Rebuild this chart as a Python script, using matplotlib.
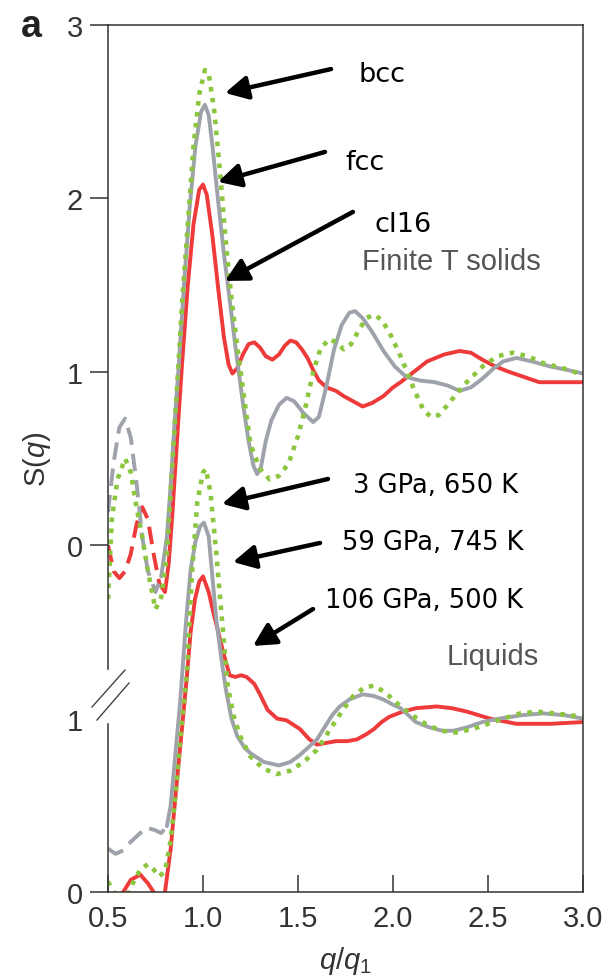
import matplotlib
matplotlib.use("Agg")
import matplotlib.pyplot as plt
from matplotlib.lines import Line2D

plt.rcParams["mathtext.fontset"] = "custom"
plt.rcParams["mathtext.rm"] = "Liberation Sans"
plt.rcParams["mathtext.it"] = "Liberation Sans:italic"

# ---------------- data: S(q) vs q/q1 ----------------
# Finite-T solids (drawn shifted up by SOLID_OFFSET)
q_cI16 = [0.50, 0.53, 0.56, 0.59, 0.62, 0.65, 0.68, 0.71, 0.74, 0.77, 0.80,
          0.82, 0.84, 0.87, 0.89, 0.92, 0.95, 0.98, 1.00, 1.02, 1.05, 1.08,
          1.11, 1.135, 1.155, 1.18, 1.21, 1.24, 1.27, 1.30, 1.33, 1.365, 1.40,
          1.43, 1.46, 1.49, 1.52, 1.55, 1.58, 1.61, 1.65, 1.70, 1.74, 1.79,
          1.84, 1.89, 1.95, 2.00, 2.04, 2.11, 2.18, 2.27, 2.35, 2.41, 2.47,
          2.54, 2.61, 2.69, 2.77, 2.88, 3.00]
s_cI16 = [0.00, -0.15, -0.19, -0.15, -0.05, 0.12, 0.22, 0.15, -0.05, -0.22, -0.27,
          -0.10, 0.20, 0.72, 1.05, 1.50, 1.85, 2.05, 2.08, 2.02, 1.78, 1.48,
          1.20, 1.04, 0.99, 1.02, 1.10, 1.16, 1.17, 1.14, 1.09, 1.07, 1.10,
          1.15, 1.18, 1.17, 1.13, 1.08, 1.01, 0.95, 0.91, 0.89, 0.86, 0.83,
          0.80, 0.82, 0.86, 0.91, 0.94, 1.00, 1.06, 1.10, 1.12, 1.11, 1.07,
          1.03, 1.00, 0.97, 0.94, 0.94, 0.94]

q_fcc = [0.50, 0.53, 0.56, 0.59, 0.62, 0.65, 0.68, 0.71, 0.75, 0.78, 0.81,
         0.83, 0.85, 0.87, 0.90, 0.93, 0.96, 0.99, 1.01, 1.03, 1.05, 1.08,
         1.11, 1.14, 1.17, 1.21, 1.24, 1.265, 1.285, 1.305, 1.33, 1.36, 1.40,
         1.44, 1.48, 1.53, 1.58, 1.61, 1.65, 1.69, 1.73, 1.77, 1.80, 1.84,
         1.89, 1.95, 2.01, 2.07, 2.14, 2.22, 2.29, 2.35, 2.41, 2.47, 2.53,
         2.58, 2.65, 2.73, 2.83, 2.92, 3.00]
s_fcc = [0.19, 0.48, 0.68, 0.73, 0.62, 0.36, 0.05, -0.15, -0.27, -0.18, 0.05,
         0.35, 0.70, 1.00, 1.50, 1.95, 2.30, 2.50, 2.54, 2.48, 2.30, 1.98,
         1.68, 1.42, 1.15, 0.82, 0.60, 0.46, 0.41, 0.45, 0.60, 0.72, 0.81,
         0.85, 0.83, 0.76, 0.71, 0.74, 0.92, 1.13, 1.27, 1.34, 1.35, 1.31,
         1.23, 1.12, 1.03, 0.97, 0.95, 0.94, 0.92, 0.89, 0.91, 0.96, 1.02,
         1.06, 1.08, 1.06, 1.03, 1.01, 0.99]

q_bcc = [0.50, 0.52, 0.55, 0.59, 0.62, 0.65, 0.68, 0.71, 0.75, 0.78, 0.81,
         0.83, 0.86, 0.89, 0.92, 0.95, 0.98, 1.01, 1.03, 1.06, 1.09, 1.12,
         1.15, 1.18, 1.21, 1.25, 1.30, 1.35, 1.40, 1.45, 1.50, 1.54, 1.58,
         1.62, 1.67, 1.71, 1.74, 1.78, 1.82, 1.86, 1.90, 1.94, 1.98, 2.04,
         2.11, 2.16, 2.20, 2.24, 2.28, 2.37, 2.47, 2.55, 2.63, 2.71, 2.79,
         2.86, 2.93, 3.00]
s_bcc = [-0.31, 0.15, 0.38, 0.50, 0.42, 0.22, 0.05, -0.15, -0.37, -0.30, -0.05,
         0.30, 0.85, 1.40, 1.85, 2.30, 2.60, 2.74, 2.72, 2.50, 2.15, 1.75,
         1.42, 1.15, 0.90, 0.58, 0.44, 0.38, 0.40, 0.47, 0.63, 0.80, 1.00,
         1.14, 1.19, 1.16, 1.13, 1.16, 1.24, 1.31, 1.33, 1.30, 1.23, 1.09,
         0.90, 0.78, 0.74, 0.75, 0.80, 0.92, 1.03, 1.09, 1.11, 1.09, 1.05,
         1.03, 1.01, 0.98]

# Liquids
q_106 = [0.50, 0.56, 0.58, 0.62, 0.67, 0.71, 0.74, 0.77, 0.80, 0.83, 0.86,
         0.89, 0.914, 0.935, 0.958, 0.98, 1.00, 1.03, 1.055, 1.08, 1.107, 1.14,
         1.17, 1.20, 1.23, 1.27, 1.30, 1.34, 1.39, 1.44, 1.51, 1.56, 1.60,
         1.65, 1.70, 1.76, 1.81, 1.86, 1.90, 1.94, 1.98, 2.05, 2.12, 2.23,
         2.31, 2.39, 2.51, 2.65, 2.83, 3.00]
s_106 = [-0.10, -0.05, 0.00, 0.07, 0.10, 0.05, 0.00, -0.04, 0.00, 0.25, 0.61,
         0.95, 1.23, 1.50, 1.69, 1.79, 1.82, 1.73, 1.61, 1.50, 1.38, 1.25,
         1.24, 1.25, 1.24, 1.20, 1.14, 1.05, 1.00, 0.99, 0.94, 0.88, 0.85,
         0.86, 0.87, 0.87, 0.88, 0.91, 0.94, 0.98, 1.01, 1.04, 1.06, 1.07,
         1.06, 1.04, 1.00, 0.97, 0.97, 0.98]

q_59 = [0.50, 0.54, 0.58, 0.62, 0.66, 0.70, 0.74, 0.78, 0.81, 0.83, 0.855,
        0.88, 0.91, 0.935, 0.96, 0.985, 1.005, 1.03, 1.07, 1.10, 1.12, 1.15,
        1.18, 1.22, 1.25, 1.32, 1.40, 1.46, 1.51, 1.56, 1.60, 1.64, 1.68,
        1.72, 1.77, 1.84, 1.90, 1.95, 2.00, 2.04, 2.08, 2.12, 2.19, 2.26,
        2.32, 2.39, 2.47, 2.56, 2.68, 2.79, 2.90, 3.00]
s_59 = [0.25, 0.22, 0.24, 0.29, 0.33, 0.37, 0.36, 0.34, 0.38, 0.50, 0.80,
        1.10, 1.55, 1.86, 2.02, 2.11, 2.13, 2.05, 1.57, 1.32, 1.17, 1.00,
        0.90, 0.83, 0.80, 0.75, 0.73, 0.75, 0.79, 0.84, 0.88, 0.95, 1.02,
        1.07, 1.11, 1.14, 1.13, 1.11, 1.08, 1.06, 1.02, 0.98, 0.95, 0.93,
        0.93, 0.95, 0.98, 1.00, 1.02, 1.03, 1.02, 1.00]

q_3 = [0.50, 0.53, 0.56, 0.60, 0.63, 0.67, 0.71, 0.74, 0.77, 0.80, 0.83,
       0.86, 0.89, 0.915, 0.94, 0.97, 1.00, 1.015, 1.04, 1.07, 1.10, 1.13,
       1.16, 1.195, 1.25, 1.32, 1.39, 1.46, 1.53, 1.60, 1.67, 1.73, 1.79,
       1.85, 1.90, 1.96, 2.03, 2.10, 2.17, 2.25, 2.33, 2.42, 2.50, 2.58,
       2.67, 2.76, 2.85, 2.93, 3.00]
s_3 = [0.06, 0.00, -0.05, -0.03, 0.05, 0.13, 0.16, 0.13, 0.09, 0.12, 0.30,
       0.61, 1.00, 1.25, 1.80, 2.25, 2.42, 2.44, 2.30, 1.95, 1.57, 1.19,
       1.02, 0.90, 0.78, 0.71, 0.68, 0.70, 0.75, 0.82, 0.94, 1.04, 1.13,
       1.18, 1.19, 1.15, 1.08, 1.02, 0.97, 0.93, 0.92, 0.94, 0.97, 1.00,
       1.03, 1.04, 1.03, 1.02, 1.01]

SOLID_OFFSET = 2.0
y_ticks = [0, 1, 2, 3, 4, 5]
y_ticklabels = ["0", "1", "0", "1", "2", "3"]
x_ticks = [0.5, 1.0, 1.5, 2.0, 2.5, 3.0]

RED = "#ee3a3a"
GREY = "#9ea2aa"
GREEN = "#8cc63f"
AX_COL = "#333333"

# ---------------- figure ----------------
fig = plt.figure(figsize=(6.06, 9.78), dpi=100)
ax = fig.add_axes([108 / 606, 85 / 978, 475 / 606, 867 / 978])
ax.set_xlim(0.5, 3.0)
ax.set_ylim(0, 5)

LW = 2.8
dash = (0, (4.5, 2.3))
dot = (0, (1, 1.4))


def draw(q, s, offset, color, split=None, **kw):
    ys = [v + offset for v in s]
    if split is None:
        ax.plot(q, ys, color=color, solid_joinstyle="round", **kw)
        return
    lo = [i for i, v in enumerate(q) if v <= split]
    i_end = lo[-1] + 1
    ax.plot(q[:i_end], ys[:i_end], color=color, lw=LW, ls=dash,
            dash_capstyle="butt", dash_joinstyle="round")
    ax.plot(q[i_end - 1:], ys[i_end - 1:], color=color, lw=LW,
            solid_capstyle="round", solid_joinstyle="round")


# liquids
draw(q_106, s_106, 0.0, RED, lw=LW)
draw(q_59, s_59, 0.0, GREY, split=0.81)
draw(q_3, s_3, 0.0, GREEN, lw=3.3, ls=dot, dash_capstyle="butt")
# solids
draw(q_cI16, s_cI16, SOLID_OFFSET, RED, split=0.80)
draw(q_fcc, s_fcc, SOLID_OFFSET, GREY, split=0.78)
draw(q_bcc, s_bcc, SOLID_OFFSET, GREEN, lw=3.3, ls=dot, dash_capstyle="butt")

# ---------------- axes styling ----------------
for side in ["top", "right", "bottom"]:
    ax.spines[side].set_color(AX_COL)
    ax.spines[side].set_linewidth(1.1)
ax.spines["left"].set_visible(False)

# broken left spine
gap_lo = (893 - 725) / 867
gap_hi = (893 - 670) / 867
for y0, y1 in [(0, gap_lo), (gap_hi, 1)]:
    ax.add_line(Line2D([0, 0], [y0, y1], transform=ax.transAxes, color=AX_COL,
                       lw=1.1, clip_on=False))
for (x0, y0), (x1, y1) in [((92, 708), (125, 671)), ((97, 721), (129, 684))]:
    ax.add_line(Line2D([(x0 - 108) / 475, (x1 - 108) / 475],
                       [(893 - y0) / 867, (893 - y1) / 867],
                       transform=ax.transAxes, color="#444444", lw=1.0,
                       clip_on=False))

ax.set_yticks(y_ticks)
ax.set_yticklabels(y_ticklabels)
ax.tick_params(axis="y", direction="out", length=13, width=1.1, color=AX_COL,
               labelsize=21, labelcolor=AX_COL, pad=5)
ax.yaxis.get_major_ticks()[1].tick1line.set_visible(False)
ax.set_xticks(x_ticks)
ax.set_xticklabels([f"{v:.1f}" for v in x_ticks])
ax.tick_params(axis="x", direction="in", length=12, width=1.1, color=AX_COL,
               labelsize=21, labelcolor=AX_COL, pad=9)
for lab in ax.get_xticklabels() + ax.get_yticklabels():
    lab.set_family("Liberation Sans")

ax.set_xlabel(r"$q/q_1$", fontsize=21, color=AX_COL)
ax.xaxis.set_label_coords(0.5, (893 - 945) / 867)
ax.set_ylabel(r"S($\mathit{q}$)", fontsize=21, color=AX_COL,
              family="Liberation Sans")
ax.yaxis.set_label_coords((53 - 108) / 475, 0.5)

fig.text(21 / 606, 1 - 37 / 978, "a", fontsize=27, fontweight="bold",
         family="Liberation Sans", color="#222222")

# ---------------- labels and arrows ----------------
ann_font = dict(family="DejaVu Sans", color="black")
head = dict(arrowstyle="-|>,head_length=0.8,head_width=0.42", lw=3.2,
            color="black", shrinkA=0, shrinkB=0, mutation_scale=17)

arrows = [
    ((1.674, 4.746), (1.116, 4.608)),
    ((1.642, 4.268), (1.079, 4.095)),
    ((1.789, 3.922), (1.116, 3.524)),
    ((1.658, 2.382), (1.100, 2.238)),
    ((1.616, 2.013), (1.158, 1.903)),
    ((1.579, 1.632), (1.263, 1.419)),
]
for tail, tip in arrows:
    ax.annotate("", xy=tip, xytext=tail, arrowprops=head)

ax.text(1.821, 4.679, "bcc", fontsize=19.5, va="baseline", **ann_font)
ax.text(1.747, 4.170, "fcc", fontsize=19.5, va="baseline", **ann_font)
ax.text(1.905, 3.814, "cI16", fontsize=19.5, va="baseline", **ann_font)
ax.text(1.791, 2.305, "3 GPa, 650 K", fontsize=18.5, va="baseline", **ann_font)
ax.text(1.730, 1.978, "59 GPa, 745 K", fontsize=18.5, va="baseline", **ann_font)
ax.text(1.642, 1.642, "106 GPa, 500 K", fontsize=18.5, va="baseline", **ann_font)

ax.text(1.835, 3.593, "Finite T solids", fontsize=21, va="baseline",
        family="Liberation Sans", color="#555555")
ax.text(2.283, 1.315, "Liquids", fontsize=21, va="baseline",
        family="Liberation Sans", color="#555555")

fig.savefig("out.png", dpi=100)
